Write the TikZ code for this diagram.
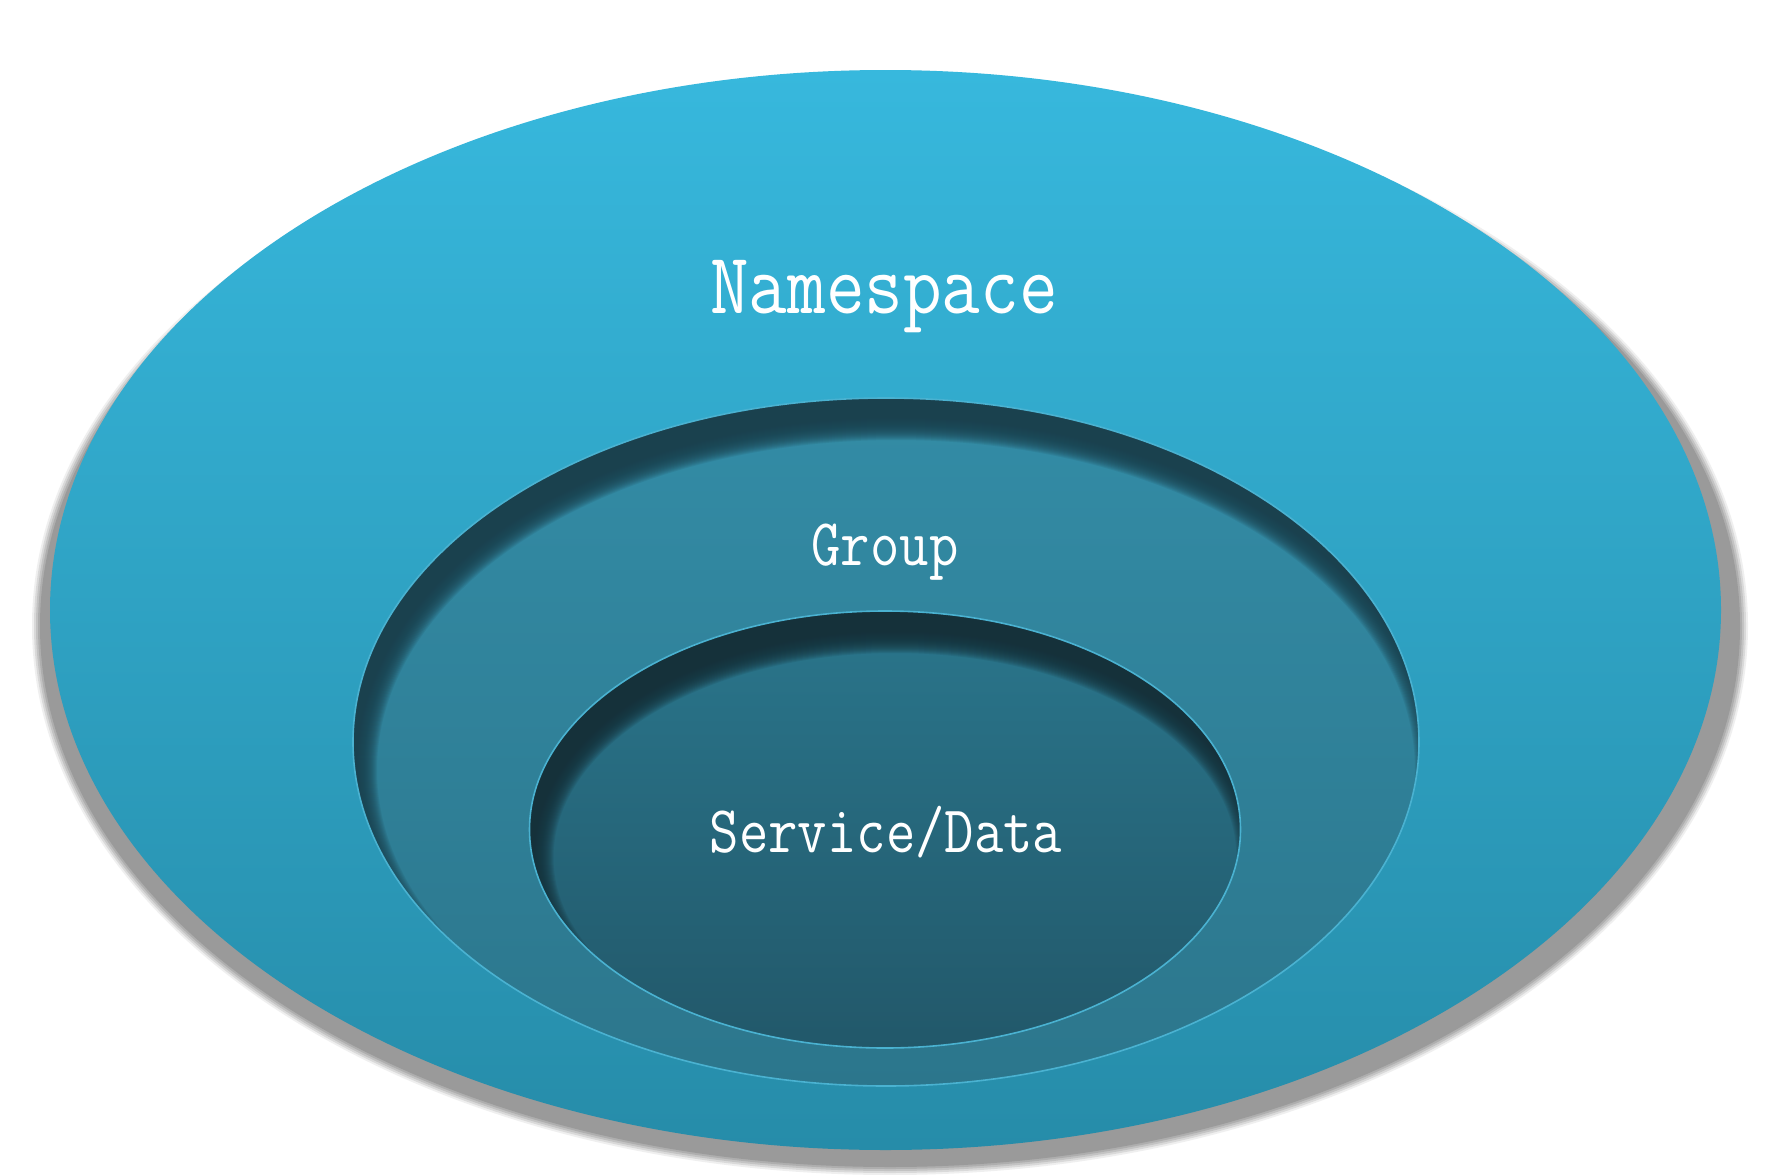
\documentclass[tikz,border=0pt]{standalone}
\usepackage{graphicx}
\definecolor{outtop}{HTML}{37B8DD}
\definecolor{outbot}{HTML}{268CA9}
\definecolor{grtop}{HTML}{338CA6}
\definecolor{grmid}{HTML}{3690AA}
\definecolor{grbot}{HTML}{2C768C}
\definecolor{grshadow}{HTML}{1A414E}
\definecolor{svtop}{HTML}{2A768C}
\definecolor{svbot}{HTML}{22586A}
\definecolor{svshadow}{HTML}{15313A}
\definecolor{rimlight}{HTML}{4AB2D1}
\definecolor{dropgray}{HTML}{9A9A9A}
\tikzset{
  lbl/.style={text=white, inner sep=0pt, anchor=base, font=\ttfamily},
}
\begin{document}
\begin{tikzpicture}[x=1pt,y=-1pt]
\useasboundingbox[fill=white] (0,0) rectangle (1781,1175);
% drop shadow of outer ellipse
\foreach \k/\op in {8/0.15,6/0.25,4/0.35,2/0.5,0/1}{
  \fill[dropgray, fill opacity=\op] (890,626) ellipse [x radius={850pt+\k pt}, y radius={541pt+\k pt}];
}
% outer ellipse
\shade[top color=outtop, bottom color=outbot] (885.5,610) ellipse [x radius=835.5pt, y radius=540pt];
% group ellipse
\begin{scope}
  \clip (886,742) ellipse [x radius=533pt, y radius=344pt];
  \shade[top color=grtop, middle color=grmid, bottom color=grbot] (886,742) ellipse [x radius=533pt, y radius=344pt];
  \foreach \r in {-10,...,14}{
    \fill[grshadow, fill opacity=0.12, even odd rule]
      (886,742) ellipse [x radius=560pt, y radius=370pt]
      (896,770) ellipse [x radius={(533-\r)*1pt}, y radius={(344-\r)*1pt}];
  }
\end{scope}
\draw[rimlight, line width=1.6pt] (886,742) ellipse [x radius=533pt, y radius=344pt];
% service ellipse
\begin{scope}
  \clip (885,829.5) ellipse [x radius=355.5pt, y radius=218.5pt];
  \shade[top color=svtop, bottom color=svbot] (885,829.5) ellipse [x radius=355.5pt, y radius=218.5pt];
  \foreach \r in {-10,...,14}{
    \fill[svshadow, fill opacity=0.12, even odd rule]
      (885,829.5) ellipse [x radius=380pt, y radius=240pt]
      (895,857.5) ellipse [x radius={(355.5-\r)*1pt}, y radius={(218.5-\r)*1pt}];
  }
\end{scope}
\draw[rimlight, line width=1.6pt] (885,829.5) ellipse [x radius=355.5pt, y radius=218.5pt];
% labels
\node[lbl, font=\ttfamily\fontsize{75}{80}\selectfont] (tns) at (884,313) {\scalebox{1}[1.16]{Namespace}};
\node[lbl, font=\ttfamily\fontsize{57}{60}\selectfont] (tgr) at (885,565) {\scalebox{1}[1.17]{Group}};
\node[lbl, font=\ttfamily\fontsize{57}{60}\selectfont] (tsv) at (886,852) {\scalebox{1}[1.17]{Service/Data}};
\end{tikzpicture}
\end{document}
